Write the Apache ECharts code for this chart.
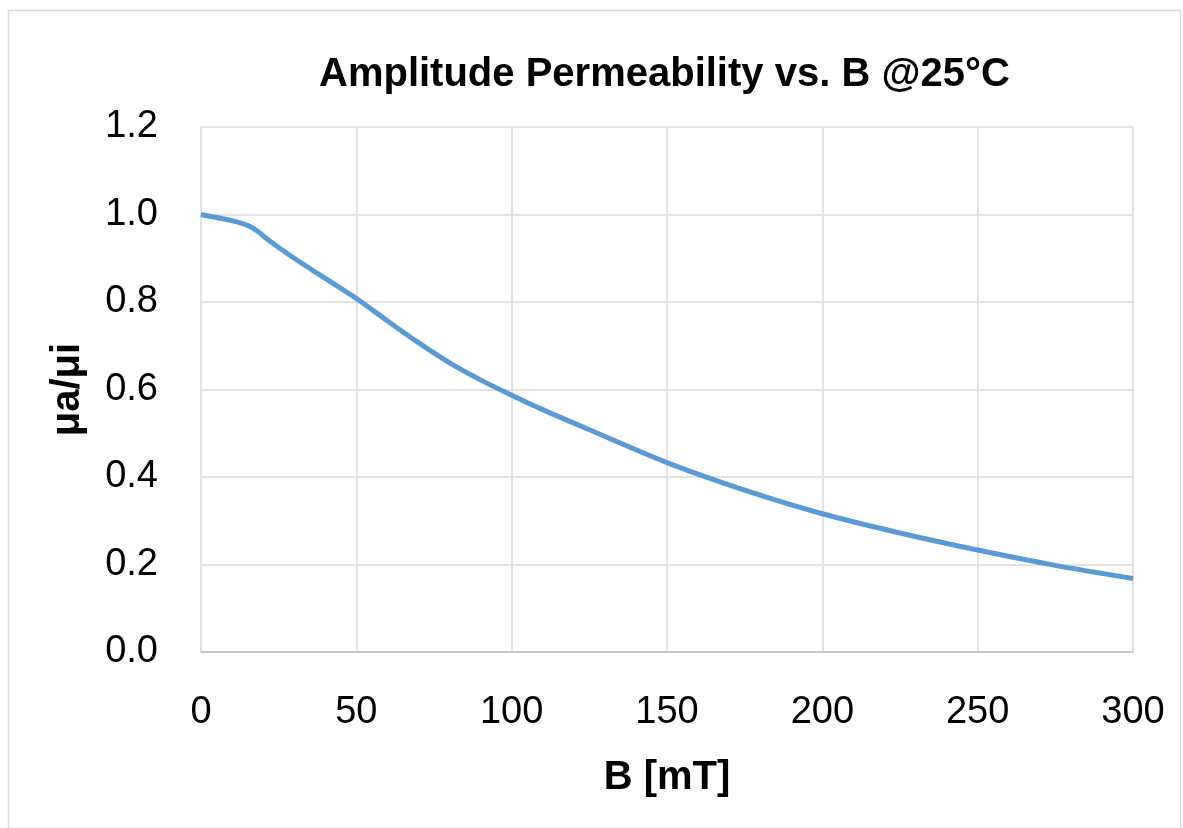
<!DOCTYPE html>
<html><head><meta charset="utf-8">
<script src="https://cdn.jsdelivr.net/npm/echarts@6/dist/echarts.min.js"></script>
<style>html,body{margin:0;padding:0;background:#fff}#c{width:1183px;height:828px}</style>
</head><body><div id="c"></div>
<script>
const B = [0, 5, 10, 15, 18, 22, 30, 40, 50, 60, 70, 80, 90, 100, 110, 125, 150, 175, 200, 225, 250, 275, 300];
const ratio = [1.0, 0.993, 0.986, 0.975, 0.963, 0.940, 0.900, 0.854, 0.808, 0.757, 0.707, 0.661, 0.622, 0.587, 0.554, 0.508, 0.433, 0.370, 0.316, 0.272, 0.233, 0.198, 0.168];
const xTicks = [0, 50, 100, 150, 200, 250, 300];
const titleText = 'Amplitude Permeability vs. B @25°C';
const xName = 'B [mT]';
const yName = 'μa/μi';

const font = 'Liberation Sans';
const chart = echarts.init(document.getElementById('c'));
chart.setOption({
  animation: false,
  backgroundColor: '#fff',
  graphic: [{type: 'rect', left: 6, top: 8, shape: {width: 1172, height: 818}, style: {fill: 'none', stroke: '#d9d9d9', lineWidth: 1.5}}],
  title: {text: titleText, left: 314, top: 50, textStyle: {fontFamily: font, fontWeight: 'bold', fontSize: 40, color: '#000'}},
  grid: {left: 201, top: 127, right: 50, bottom: 176},
  xAxis: {
    type: 'value', min: 0, max: 300, interval: 50,
    name: xName, nameLocation: 'middle', nameGap: 106,
    nameTextStyle: {fontFamily: font, fontWeight: 'bold', fontSize: 40, color: '#000'},
    axisLine: {show: true, lineStyle: {color: '#bfbfbf', width: 1.5}},
    axisTick: {show: false},
    axisLabel: {fontFamily: font, fontSize: 38, color: '#000', margin: 42, formatter: v => xTicks.includes(v) ? String(v) : ''},
    splitLine: {show: true, lineStyle: {color: '#d9d9d9', width: 1.5}}
  },
  yAxis: {
    type: 'value', min: 0, max: 1.2, interval: 0.2,
    name: yName, nameLocation: 'middle', nameGap: 113, nameRotate: 90,
    nameTextStyle: {fontFamily: font, fontWeight: 'bold', fontSize: 40, color: '#000'},
    axisLine: {show: false}, axisTick: {show: false},
    axisLabel: {fontFamily: font, fontSize: 38, color: '#000', margin: 43, formatter: v => v.toFixed(1)},
    splitLine: {show: true, lineStyle: {color: '#d9d9d9', width: 1.5}}
  },
  series: [{
    type: 'line', data: B.map((b, i) => [b, ratio[i]]), smooth: 0.3, showSymbol: false,
    lineStyle: {color: '#5b9bd5', width: 5}
  }]
});
</script></body></html>
